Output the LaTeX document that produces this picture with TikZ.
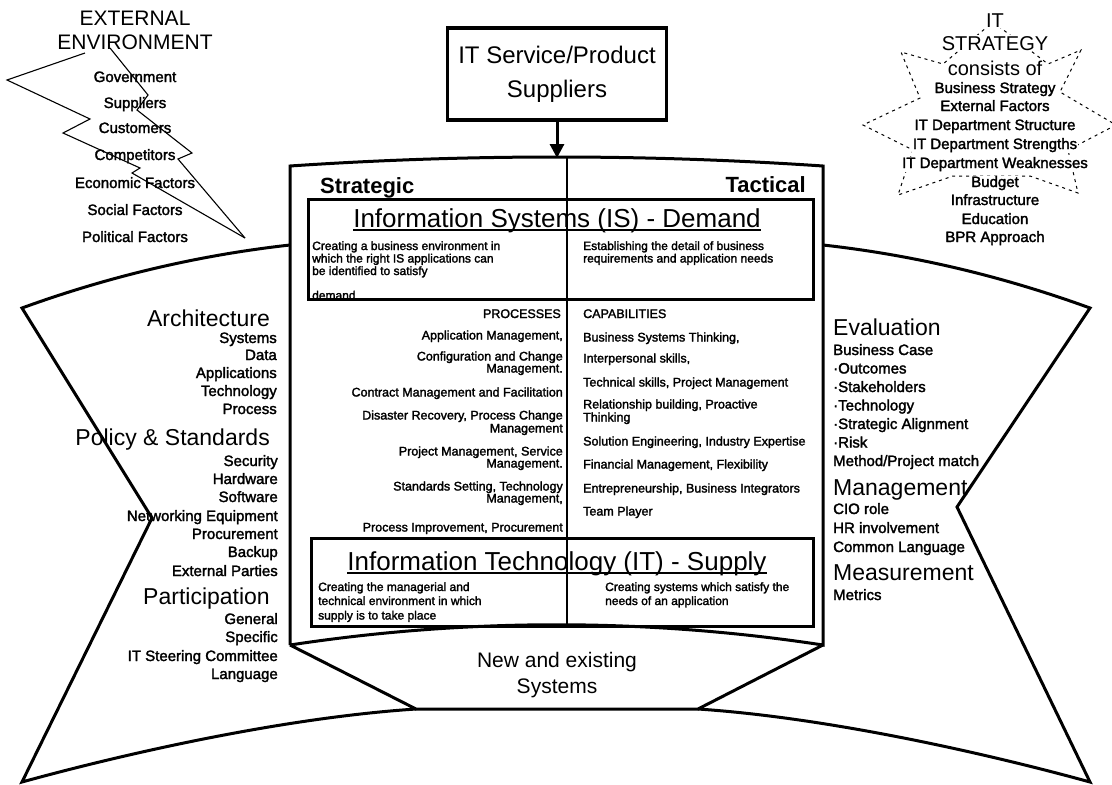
\documentclass[tikz,border=0pt]{standalone}
\usepackage{fontspec}
\setmainfont{Liberation Sans}
\newfontfamily\hv{Liberation Sans}[FakeBold=2]
\usetikzlibrary{arrows.meta}
\newcommand\fsz[1]{\fontsize{#1pt}{#1pt}\selectfont}
\begin{document}
\begin{tikzpicture}[x=1pt,y=-1pt,
  outline/.style={line width=3pt, line join=miter},
  boxline/.style={draw, line width=3.2pt, inner sep=0pt},
  headR/.style={inner sep=0pt, anchor=base east, font=\fsz{23}},
  headL/.style={inner sep=0pt, anchor=base west, font=\fsz{23}},
  itemR/.style={inner sep=0pt, anchor=base east, font=\hv\fsz{15}},
  itemL/.style={inner sep=0pt, anchor=base west, font=\hv\fsz{15}},
  itemC/.style={inner sep=0pt, anchor=base, font=\hv\fsz{15}},
  starC/.style={inner sep=0.6pt, anchor=base, font=\hv\fsz{15}, fill=white},
  noteL/.style={inner sep=0pt, anchor=base west, font=\hv\fsz{12}},
  noteR/.style={inner sep=0pt, anchor=base east, font=\hv\fsz{12.5}},
  capL/.style={inner sep=0pt, anchor=base west, font=\hv\fsz{12.5}},
  title/.style={inner sep=0pt, anchor=base, font=\fsz{26}},
  boltline/.style={line width=1.1pt, line join=miter},
  starline/.style={line width=1pt, dash pattern=on 3pt off 4pt}]

\useasboundingbox (0,0) rectangle (1112,785);

% ---- side wings of the bow-tie ----
\draw[outline] (290,245) .. controls (200,255) and (110,276) .. (22,308)
  -- (152,518) -- (22,782) .. controls (120,755) and (280,718) .. (416,709);
\draw[outline] (823,245) .. controls (913,255) and (1002,276) .. (1090,308)
  -- (957,507) -- (1090,782) .. controls (992,755) and (832,718) .. (698,709);

% ---- central frame and the base trapezoid ----
\draw[outline] (290,645) -- (290,166) .. controls (467,154) and (646,154) .. (823,166)
  -- (823,645) .. controls (646,618) and (467,618) .. (290,645);
\draw[outline] (290,645) -- (416,709) -- (698,709) -- (823,645);

% strategic / tactical divider
\coordinate (divtop) at (567,157.5);
\coordinate (divbot) at (567,625);
\draw[line width=1.2pt] (divtop) -- (divbot);

% ---- suppliers box and arrow ----
\node[boxline, minimum width=219pt, minimum height=92pt, align=center,
      font={\fontsize{24pt}{34pt}\selectfont}] (sup) at (557,74)
      {IT Service/Product\\Suppliers};
\coordinate (ftop) at (557,158);
\draw[line width=3pt, -{Triangle[length=14pt,width=14pt]}] (sup.south) -- (ftop);

% ---- headings inside the frame ----
\node[inner sep=0pt, anchor=base west, font={\fsz{22}\bfseries}] (strat) at (320,193) {Strategic};
\node[inner sep=0pt, anchor=base east, font={\fsz{22}\bfseries}] (tact) at (806,192) {Tactical};

% ---- IS demand box ----
\node[title] (istitle) at (557,227) {Information Systems (IS) - Demand};
\draw[line width=1.3pt] ([yshift=-3pt]istitle.base west) -- ([yshift=-3pt]istitle.base east);
\foreach \t/\y [count=\i] in {Creating a business environment in/250,
    which the right IS applications can/262.5, be identified to satisfy/275, demand/299.5}
  \node[noteL] (isl\i) at (312,\y) {\t};
\foreach \t/\y [count=\i] in {Establishing the detail of business/250,
    requirements and application needs/262.5}
  \node[noteL] (isr\i) at (583,\y) {\t};
\node[boxline, minimum width=505pt, minimum height=100pt, anchor=north west] (isbox) at (307,198) {};

% ---- processes and capabilities ----
\node[noteR] (prochead) at (561,318) {PROCESSES};
\node[capL] (caphead) at (583,318) {CAPABILITIES};
\foreach \t/\y [count=\i] in {{Application Management,}/339.5,
    Configuration and Change/360.5, Management./372.5,
    Contract Management and Facilitation/396.5,
    {Disaster Recovery, Process Change}/419.5, Management/432.5,
    {Project Management, Service}/455.5, Management./467.5,
    {Standards Setting, Technology}/490.5, {Management,}/502.5,
    {Process Improvement, Procurement}/531.5}
  \node[noteR] (proc\i) at (563,\y) {\t};
\foreach \t/\y [count=\i] in {{Business Systems Thinking,}/341.5,
    {Interpersonal skills,}/362.5,
    {Technical skills, Project Management}/386.5,
    {Relationship building, Proactive}/408.5, Thinking/421.5,
    {Solution Engineering, Industry Expertise}/445.5,
    {Financial Management, Flexibility}/468.5,
    {Entrepreneurship, Business Integrators}/492.5,
    Team Player/515.5}
  \node[capL] (cap\i) at (583,\y) {\t};

% ---- IT supply box ----
\node[title] (ittitle) at (557,570) {Information Technology (IT) - Supply};
\draw[line width=1.3pt] ([yshift=-3pt]ittitle.base west) -- ([yshift=-3pt]ittitle.base east);
\foreach \t/\y [count=\i] in {Creating the managerial and/591,
    technical environment in which/605, supply is to take place/619.5}
  \node[noteL] (itl\i) at (318,\y) {\t};
\foreach \t/\y [count=\i] in {Creating systems which satisfy the/591,
    needs of an application/605}
  \node[noteL] (itr\i) at (605,\y) {\t};
\node[boxline, minimum width=502pt, minimum height=88pt, anchor=north west] (itbox) at (310,537) {};

% ---- base label ----
\node[inner sep=0pt, anchor=base, font=\fsz{21}] (nes1) at (557,667) {New and existing};
\node[inner sep=0pt, anchor=base, font=\fsz{21}] (nes2) at (557,693) {Systems};

% ---- left wing list ----
\node[headR] (arch) at (270,326) {Architecture};
\foreach \t/\y [count=\i] in {Systems/343, Data/360, Applications/378,
    Technology/396, Process/414}
  \node[itemR] (archi\i) at (277,\y) {\t};
\node[headR] (pol) at (270,445) {Policy \& Standards};
\foreach \t/\y [count=\i] in {Security/466, Hardware/484, Software/502,
    Networking Equipment/521, Procurement/539, Backup/557, External Parties/576}
  \node[itemR] (poli\i) at (278,\y) {\t};
\node[headR] (part) at (270,604) {Participation};
\foreach \t/\y [count=\i] in {General/624, Specific/642,
    IT Steering Committee/661, Language/679}
  \node[itemR] (parti\i) at (278,\y) {\t};

% ---- right wing list ----
\node[headL] (eval) at (833,335) {Evaluation};
\foreach \t/\y [count=\i] in {Business Case/355, ·Outcomes/373.5,
    ·Stakeholders/392, ·Technology/410.5, ·Strategic Alignment/429,
    ·Risk/447.5, {Method/Project match}/466}
  \node[itemL] (evali\i) at (833,\y) {\t};
\node[headL] (mgmt) at (833,495) {Management};
\foreach \t/\y [count=\i] in {CIO role/514, HR involvement/533, Common Language/552}
  \node[itemL] (mgmti\i) at (833,\y) {\t};
\node[headL] (meas) at (833,580) {Measurement};
\node[itemL] (measi1) at (833,600) {Metrics};

% ---- external environment lightning bolt ----
\draw[boltline] (85,53) -- (7,80) -- (90,119) -- (63,133) -- (140,168)
  -- (132,173) -- (245,238);
\draw[boltline] (110,48) -- (148,95) -- (137,110) -- (192,153) -- (178,159) -- (245,238);
\node[inner sep=0pt, anchor=base, font=\fsz{21}] (ext1) at (135,25) {EXTERNAL};
\node[inner sep=0pt, anchor=base, font=\fsz{21}] (ext2) at (135,49) {ENVIRONMENT};
\foreach \t/\y [count=\i] in {Government/82, Suppliers/108, Customers/133,
    Competitors/160, Economic Factors/188, Social Factors/215, Political Factors/242}
  \node[itemC] (env\i) at (135,\y) {\t};

% ---- IT strategy star ----
\begin{scope}[xshift=8pt]
\draw[starline] (985,22) -- (1040,64) -- (1073,50) -- (1052,92) -- (1108,125)
  -- (1060,150) -- (1070,193) -- (1022,176) -- (945,176) -- (890,195)
  -- (905,150) -- (855,125) -- (912,98) -- (893,52) -- (935,64) -- cycle;
\end{scope}
\node[starC, font=\fsz{20}] (its1) at (995,27) {IT};
\node[starC, font=\fsz{20}] (its2) at (995,50) {STRATEGY};
\node[starC, font=\fsz{20}] (its3) at (995,75) {consists of};
\foreach \t/\y [count=\i] in {Business Strategy/93, External Factors/111,
    IT Department Structure/130, IT Department Strengths/149,
    IT Department Weaknesses/168, Budget/187, Infrastructure/205,
    Education/224, BPR Approach/242}
  \node[starC] (itsi\i) at (995,\y) {\t};
\end{tikzpicture}
\end{document}
